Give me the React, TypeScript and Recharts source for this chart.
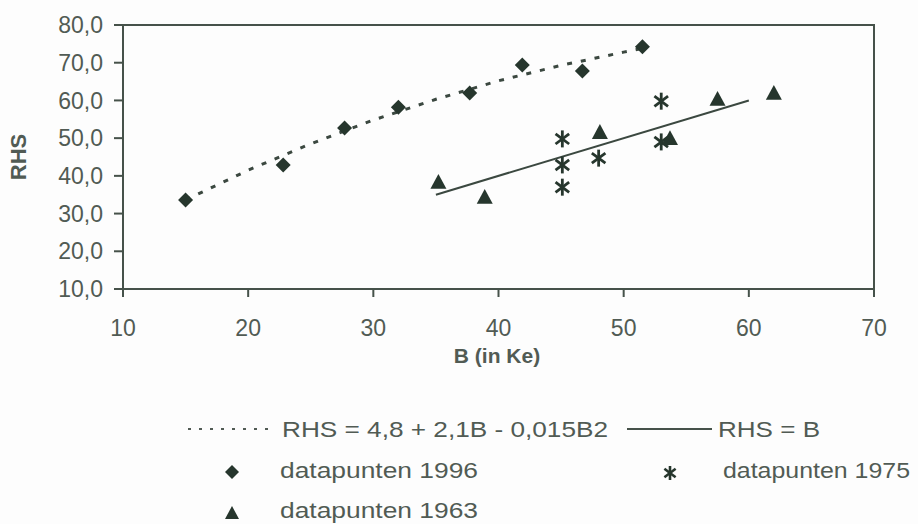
import React from 'react'
import { ScatterChart, Scatter, XAxis, YAxis, ReferenceArea, Legend } from 'recharts'

// datapunten
const b1996 = [15, 22.8, 27.7, 32, 37.7, 41.9, 46.7, 51.5]
const rhs1996 = [33.6, 42.9, 52.7, 58.2, 62.0, 69.4, 67.8, 74.2]

const b1975 = [45.1, 45.1, 45.1, 48.0, 53.0, 53.0]
const rhs1975 = [49.8, 42.9, 37.0, 44.7, 59.8, 49.0]

const b1963 = [35.2, 38.9, 48.1, 53.7, 57.5, 62.0]
const rhs1963 = [38.4, 34.4, 51.6, 50.0, 60.4, 62.0]

// fitted curve (dotted) and RHS = B (solid), as traced in the picture
const curveB = [15, 20, 25, 30, 35, 40, 45, 50, 51.5]
const curveRHS = [33.6, 41.5, 48.5, 54.8, 60.3, 65.2, 69.3, 72.8, 73.8]
const lineB = [35, 60]
const lineRHS = [35, 60]

const xTicks = [10, 20, 30, 40, 50, 60, 70]
const yTicks = [10, 20, 30, 40, 50, 60, 70, 80]

const toPoints = (xs: number[], ys: number[]) => xs.map((x, i) => ({ x, y: ys[i] }))

const MARK = '#26362d'
const AXIS = '#46524a'
const TEXT = '#515b54'
const FONT = '"Liberation Sans", Arial, sans-serif'

const Diamond = ({ cx, cy, r = 7.5 }: any) => (
  <path d={`M${cx},${cy - r} L${cx + r},${cy} L${cx},${cy + r} L${cx - r},${cy} Z`} fill={MARK} />
)

const Triangle = ({ cx, cy, r = 8 }: any) => (
  <path d={`M${cx},${cy - r} L${cx + r},${cy + r * 0.85} L${cx - r},${cy + r * 0.85} Z`} fill={MARK} />
)

const Star = ({ cx, cy, r = 8.5, w = 2.8 }: any) => (
  <g stroke={MARK} strokeWidth={w}>
    <line x1={cx} y1={cy - r} x2={cx} y2={cy + r} />
    <line x1={cx - r * 0.8} y1={cy - r * 0.6} x2={cx + r * 0.8} y2={cy + r * 0.6} />
    <line x1={cx - r * 0.8} y1={cy + r * 0.6} x2={cx + r * 0.8} y2={cy - r * 0.6} />
  </g>
)

const Nothing = () => <g />

const legendText = (x: number, y: number, s: string, w: number) => (
  <text x={x} y={y} fontSize={22} fill={TEXT} fontFamily={FONT} textLength={w} lengthAdjust="spacingAndGlyphs">
    {s}
  </text>
)

const renderLegend = () => (
  <svg width={918} height={112} style={{ display: 'block' }}>
    <line x1={188} y1={17} x2={270} y2={17} stroke={TEXT} strokeWidth={2} strokeDasharray="3 8" />
    {legendText(282, 25, 'RHS = 4,8 + 2,1B - 0,015B2', 326)}
    <line x1={627} y1={17} x2={712} y2={17} stroke={AXIS} strokeWidth={2} />
    {legendText(718, 25, 'RHS = B', 102)}
    <Diamond cx={232} cy={60} r={7} />
    {legendText(280, 66, 'datapunten 1996', 198)}
    <Star cx={670} cy={61} r={7} w={2.6} />
    {legendText(723, 66, 'datapunten 1975', 187)}
    <Triangle cx={232} cy={101} r={7} />
    {legendText(280, 106, 'datapunten 1963', 198)}
  </svg>
)

const YLabel = () => (
  <text
    x={18}
    y={157}
    transform="rotate(-90 18 157)"
    textAnchor="middle"
    dominantBaseline="central"
    fontSize={22}
    fontWeight="bold"
    fill={TEXT}
    fontFamily={FONT}
  >
    RHS
  </text>
)

const XLabel = () => (
  <text x={497} y={363} textAnchor="middle" fontSize={21} fontWeight="bold" fill={TEXT} fontFamily={FONT}>
    B (in Ke)
  </text>
)

export default function App() {
  const tickStyle = { fontSize: 23, fill: TEXT, fontFamily: FONT }
  return (
    <div style={{ position: 'absolute', left: 0, top: 0, width: 918, height: 524, background: '#fdfdfd' }}>
      <ScatterChart width={918} height={524} margin={{ top: 25, right: 44, left: 0, bottom: 0 }}>
        <XAxis
          type="number"
          dataKey="x"
          domain={[10, 70]}
          ticks={xTicks}
          interval={0}
          height={123}
          stroke={AXIS}
          strokeWidth={2}
          tickSize={8}
          tickMargin={23}
          tick={tickStyle}
          label={<XLabel />}
        />
        <YAxis
          type="number"
          dataKey="y"
          domain={[10, 80]}
          ticks={yTicks}
          interval={0}
          width={123}
          stroke={AXIS}
          strokeWidth={2}
          tickSize={9}
          tickMargin={11}
          tick={tickStyle}
          tickFormatter={(v: number) => v.toFixed(1).replace('.', ',')}
          label={<YLabel />}
        />
        <ReferenceArea x1={10} x2={70} y1={10} y2={80} fill="none" stroke={AXIS} strokeWidth={2} strokeOpacity={1} />
        <Legend
          verticalAlign="bottom"
          content={renderLegend}
          wrapperStyle={{ left: 0, bottom: 0, width: 918, height: 112 }}
        />
        <Scatter
          data={toPoints(curveB, curveRHS)}
          line={{ stroke: '#3b4840', strokeWidth: 3, strokeDasharray: '5 9' }}
          shape={Nothing}
          isAnimationActive={false}
        />
        <Scatter
          data={toPoints(lineB, lineRHS)}
          line={{ stroke: '#3b4840', strokeWidth: 2 }}
          shape={Nothing}
          isAnimationActive={false}
        />
        <Scatter data={toPoints(b1996, rhs1996)} shape={<Diamond />} isAnimationActive={false} />
        <Scatter data={toPoints(b1975, rhs1975)} shape={<Star />} isAnimationActive={false} />
        <Scatter data={toPoints(b1963, rhs1963)} shape={<Triangle />} isAnimationActive={false} />
      </ScatterChart>
    </div>
  )
}
